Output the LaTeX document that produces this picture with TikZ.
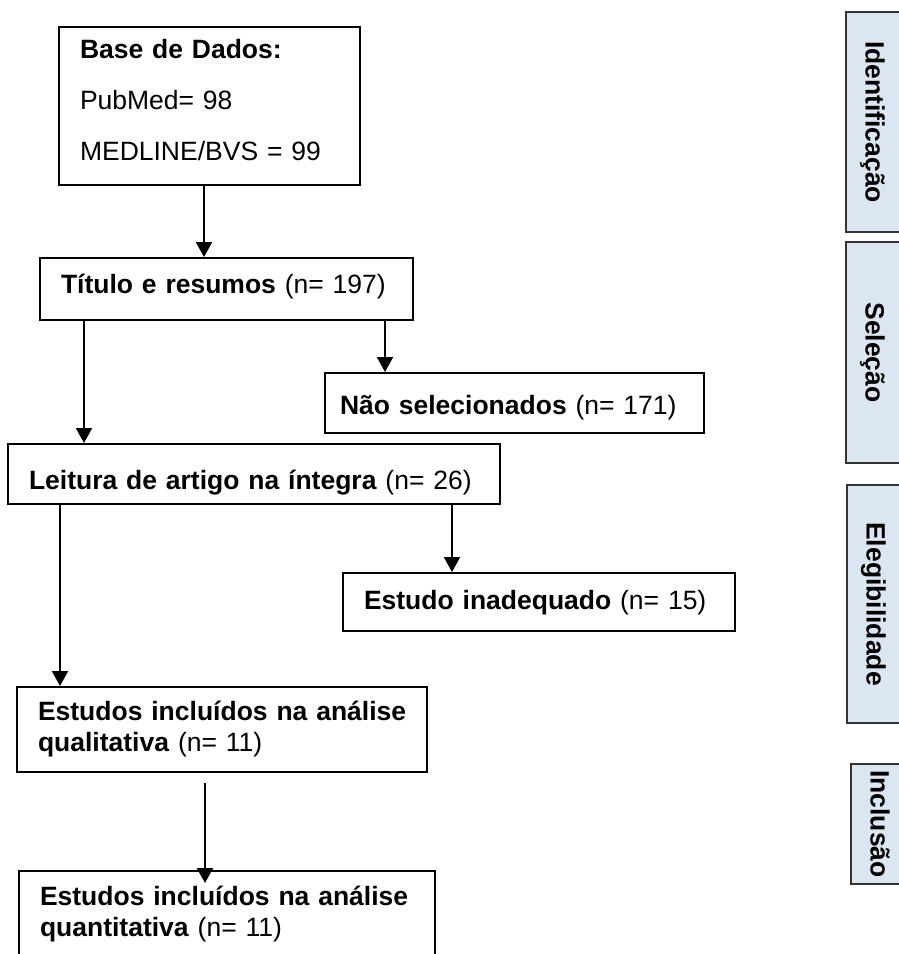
\documentclass[tikz,border=0pt]{standalone}
\usepackage{fontspec}
\setmainfont{Liberation Sans}
\usepackage{xcolor}
\usepackage{tikz}
\usetikzlibrary{arrows.meta}
\definecolor{faseazul}{HTML}{DCE6F2}
\tikzset{
  caixa/.style={draw, line width=2pt, fill=white, anchor=north west, inner xsep=21pt, inner ysep=0pt, align=left},
  fase/.style={draw=black!80, line width=1.5pt, fill=faseazul, rotate=-90, inner sep=0pt, minimum height=70pt, text height=35pt, text depth=4pt, font=\fontsize{26.5}{31}\selectfont\bfseries},
  seta/.style={-{Triangle[width=16pt,length=15pt]}, line width=2pt}
}

\begin{document}
\begin{tikzpicture}[x=1pt, y=-1pt, font=\fontsize{26.5}{31}\selectfont]
                \useasboundingbox (0,0) rectangle (898,954);
                \node[caixa, text width=259pt, minimum height=158pt, text depth=115pt, font=\fontsize{26.5}{51}\selectfont] at (58,26) (base) {\textbf{Base de Dados:}\\PubMed= 98\\MEDLINE/BVS = 99};
                \node[caixa, text width=331pt, minimum height=62pt, text height=20pt, text depth=12pt] at (39,257) (titulo) {\textbf{Título e resumos} (n= 197)};
                \node[caixa, inner xsep=15pt, text width=349pt, minimum height=60pt, text height=26pt, text depth=4pt] at (324,372) (nao) {\textbf{Não selecionados} (n= 171)};
                \node[caixa, text width=450pt, minimum height=60pt, text height=34pt, text depth=4pt] at (7,443) (leitura) {\textbf{Leitura de artigo na íntegra} (n= 26)};
                \node[caixa, text width=350pt, minimum height=58pt, text height=20pt, text depth=6pt] at (342,572) (estudo) {\textbf{Estudo inadequado} (n= 15)};
                \node[caixa, text width=368pt, minimum height=85pt] at (16,686) (quali) {\mbox{\textbf{Estudos incluídos na análise}}\\\textbf{qualitativa} (n= 11)};
                \node[caixa, text width=374pt, minimum height=87pt] at (18,870) (quanti) {\mbox{\textbf{Estudos incluídos na análise}}\\\textbf{quantitativa} (n= 11)};
                \node[fase, minimum width=220pt] at (881,122) (ident) {Identificação};
                \node[fase, minimum width=221pt] at (881,352.5) (selecao) {Seleção};
                \node[fase, minimum width=238pt] at (882,604) (eleg) {Elegibilidade};
                \node[fase, minimum width=120pt] at (886,824) (incl) {Inclusão};
                \coordinate (s1) at ([xshift=146pt]base.south west);
                \coordinate (s2) at ([xshift=45pt]titulo.south west);
                \coordinate (s3) at ([xshift=346pt]titulo.south west);
                \coordinate (s4) at ([xshift=53pt]leitura.south west);
                \coordinate (s5) at ([xshift=445pt]leitura.south west);
                \coordinate (s6) at ([xshift=189pt,yshift=-10pt]quali.south west);
                \coordinate (e6) at ([xshift=187pt,yshift=-13pt]quanti.north west);
                \draw[seta] (s1) -- (s1 |- titulo.north);
                \draw[seta] (s2) -- (s2 |- leitura.north);
                \draw[seta] (s3) -- (s3 |- nao.north);
                \draw[seta] (s4) -- (s4 |- quali.north);
                \draw[seta] (s5) -- (s5 |- estudo.north);
                \draw[seta] (s6) -- (e6);
            \end{tikzpicture}
\end{document}
